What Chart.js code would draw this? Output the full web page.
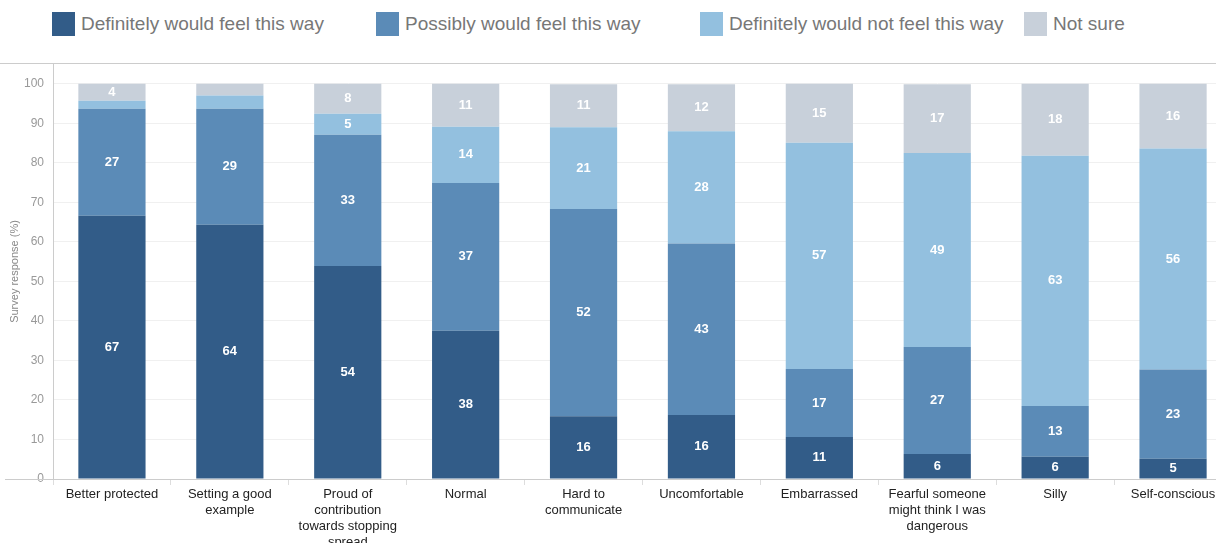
<!DOCTYPE html>
<html>
<head>
<meta charset="utf-8">
<script src="https://cdn.jsdelivr.net/npm/chart.js@4/dist/chart.umd.min.js"></script>
<style>
  body { margin: 0; width: 1216px; height: 543px; overflow: hidden; background: #fff; font-family: "Liberation Sans", Arial, sans-serif; }
  #legend { position: absolute; left: 52px; top: 12px; display: flex; }
  .item { width: 324px; display: flex; align-items: center; font-size: 19px; color: #777; }
  .box { width: 23px; height: 24px; margin-right: 6px; }
  #wrap { position: absolute; left: 0; top: 63px; width: 1232px; height: 480px; border-top: 1px solid #ccc; overflow: hidden; }
</style>
</head>
<body>
<div id="legend"></div>
<div id="wrap"><canvas id="myChart" width="1232" height="500"></canvas></div>
<script>
const categories = [
    ['Better protected'],
    ['Setting a good', 'example'],
    ['Proud of', 'contribution', 'towards stopping', 'spread'],
    ['Normal'],
    ['Hard to', 'communicate'],
    ['Uncomfortable'],
    ['Embarrassed'],
    ['Fearful someone', 'might think I was', 'dangerous'],
    ['Silly'],
    ['Self-conscious'],
];
const seriesNames = ['Definitely would feel this way', 'Possibly would feel this way', 'Definitely would not feel this way', 'Not sure'];
const definitelyWould = [66.6, 64.3, 53.9, 37.5, 15.9, 16.2, 10.6, 6.3, 5.6, 5.1];
const possiblyWould = [27.1, 29.4, 33.2, 37.4, 52.4, 43.4, 17.2, 27.1, 12.9, 22.6];
const definitelyNot = [2.0, 3.3, 5.3, 14.2, 20.7, 28.4, 57.3, 49.1, 63.3, 55.9];
const notSure = [4.3, 3.0, 7.6, 10.9, 10.9, 11.9, 14.9, 17.4, 18.2, 16.4];
const yTicks = [0, 10, 20, 30, 40, 50, 60, 70, 80, 90, 100];

const colors = ['#325c88', '#5b8bb7', '#93c0df', '#c8d0da'];
const series = [definitelyWould, possiblyWould, definitelyNot, notSure];

// legend laid out in fixed-width columns
const legend = document.getElementById('legend');
seriesNames.forEach((name, i) => {
    const item = document.createElement('div');
    item.className = 'item';
    item.innerHTML = '<span class="box" style="background:' + colors[i] + '"></span><span>' + name + '</span>';
    legend.appendChild(item);
});

const segmentLabels = {
    id: 'segmentLabels',
    afterDatasetsDraw(chart) {
        const ctx = chart.ctx;
        ctx.save();
        ctx.fillStyle = '#fff';
        ctx.font = 'bold 13px "Liberation Sans", Arial, sans-serif';
        ctx.textAlign = 'center';
        ctx.textBaseline = 'middle';
        chart.data.datasets.forEach((ds, di) => {
            chart.getDatasetMeta(di).data.forEach((bar, i) => {
                const v = ds.data[i];
                if (v < 3.5) return;
                ctx.fillText(Math.round(v), bar.x, (bar.y + bar.base) / 2);
            });
        });
        ctx.restore();
    }
};

const baseLine = {
    id: 'baseLine',
    afterDraw(chart) {
        const ctx = chart.ctx, a = chart.chartArea;
        ctx.save();
        ctx.strokeStyle = '#ccc';
        ctx.lineWidth = 1;
        ctx.beginPath();
        ctx.moveTo(5, Math.round(a.bottom) + 0.5);
        ctx.lineTo(a.left, Math.round(a.bottom) + 0.5);
        ctx.stroke();
        ctx.restore();
    }
};

Chart.defaults.font.family = '"Liberation Sans", Arial, sans-serif';

const ctx = document.getElementById('myChart').getContext('2d');
const myChart = new Chart(ctx, {
    type: 'bar',
    data: {
        labels: categories,
        datasets: series.map((data, i) => ({
            label: seriesNames[i],
            data: data,
            backgroundColor: colors[i],
            borderWidth: 0,
            barPercentage: 0.57,
            categoryPercentage: 1.0,
        })),
    },
    options: {
        responsive: false,
        animation: false,
        events: [],
        layout: { padding: 0 },
        plugins: {
            legend: { display: false },
            tooltip: { enabled: false },
        },
        scales: {
            x: {
                stacked: true,
                grid: { display: true, drawOnChartArea: false, drawTicks: true, tickLength: 6, color: '#ddd', offset: true },
                border: { display: true, color: '#ccc' },
                ticks: { color: '#222', font: { size: 13, lineHeight: 1.25 }, padding: 1, maxRotation: 0, autoSkip: false },
                afterFit(scale) {
                    scale.height = 85;
                    scale.paddingLeft = 0;
                    scale.paddingRight = 0;
                },
            },
            y: {
                stacked: true,
                min: 0,
                max: 105,
                afterBuildTicks(scale) {
                    scale.ticks = yTicks.map(v => ({ value: v }));
                },
                grid: { color: '#f0f0f0', drawTicks: false },
                border: { display: true, color: '#ccc' },
                ticks: { color: '#999', font: { size: 12 }, padding: 9 },
                title: {
                    display: true,
                    text: 'Survey response (%)',
                    color: '#888',
                    font: { size: 11 },
                    padding: { top: 8, bottom: 0 },
                },
                afterFit(scale) {
                    scale.width = 53;
                    scale.paddingTop = 0;
                    scale.paddingBottom = 0;
                },
            },
        },
    },
    plugins: [segmentLabels, baseLine],
});
</script>
</body>
</html>
